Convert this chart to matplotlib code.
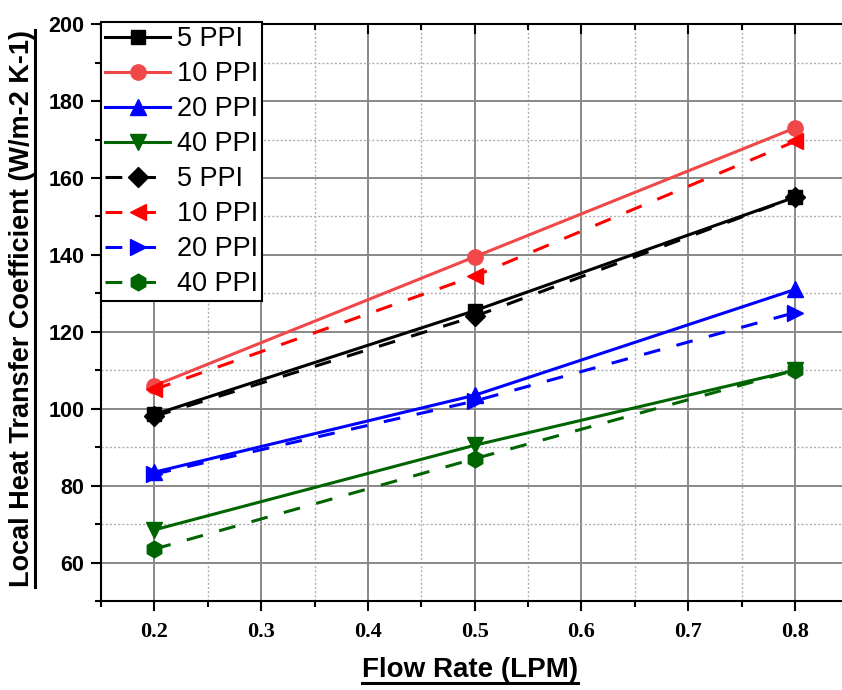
import matplotlib
matplotlib.use('Agg')
import matplotlib.pyplot as plt
from matplotlib.lines import Line2D
from matplotlib.ticker import MultipleLocator

# flow rates (LPM)
flow = [0.2, 0.5, 0.8]

# solid lines
h5_a = [98.5, 125.5, 155]
h10_a = [106, 139.5, 173]
h20_a = [83.5, 103.5, 131]
h40_a = [68.5, 90.5, 110]

# dashed lines
h5_b = [98, 124, 155]
h10_b = [105, 134.5, 169.5]
h20_b = [83, 102, 125]
h40_b = [63.5, 87, 110]

labels = ['5 PPI', '10 PPI', '20 PPI', '40 PPI']

fig = plt.figure(figsize=(8.42, 6.9), dpi=100)
ax = fig.add_axes([0.120, 0.129, 0.885, 0.836])

lw = 2.2
ms = 11
dash = (0, (5.5, 5.5))
ax.plot(flow, h5_a, color='black', marker='s', lw=lw, ms=ms - 1, label=labels[0], zorder=3)
ax.plot(flow, h10_a, color='#f04848', marker='o', lw=lw, ms=ms, label=labels[1], zorder=3)
ax.plot(flow, h20_a, color='#0000ff', marker='^', lw=lw, ms=ms, label=labels[2], zorder=3)
ax.plot(flow, h40_a, color='#006400', marker='v', lw=lw, ms=ms, label=labels[3], zorder=3)
ax.plot(flow, h5_b, color='black', marker='D', lw=lw, ms=ms - 1, ls=dash, label=labels[0], zorder=3)
ax.plot(flow, h10_b, color='#ff0000', marker='<', lw=lw, ms=ms, ls=dash, label=labels[1], zorder=3)
ax.plot(flow, h20_b, color='#0000ff', marker='>', lw=lw, ms=ms, ls=dash, label=labels[2], zorder=3)
ax.plot(flow, h40_b, color='#006400', marker='h', lw=lw, ms=ms + 1, ls=dash, label=labels[3], zorder=3)

ax.set_xlim(0.15, 0.848)
ax.set_ylim(50, 200)
ax.xaxis.set_major_locator(MultipleLocator(0.1))
ax.xaxis.set_minor_locator(MultipleLocator(0.05))
ax.yaxis.set_major_locator(MultipleLocator(20))
ax.yaxis.set_minor_locator(MultipleLocator(10))

ax.grid(which='major', color='#888888', lw=1.4, ls='-', zorder=0)
ax.grid(which='minor', color='#b0b0b0', lw=1.0, ls=(0, (1.5, 1.5)), zorder=0)
ax.set_axisbelow(True)

for s in ax.spines.values():
    s.set_linewidth(1.5)
ax.tick_params(which='both', direction='out', width=1.5, top=True, right=True)
ax.tick_params(which='major', length=7)
ax.tick_params(which='minor', length=4)
ax.xaxis.set_tick_params(which='both', labeltop=False)

ax.set_xticks([0.2, 0.3, 0.4, 0.5, 0.6, 0.7, 0.8])
ax.set_xticklabels(['0.2', '0.3', '0.4', '0.5', '0.6', '0.7', '0.8'],
                   fontfamily='Liberation Serif', fontweight='bold', fontsize=16)
ax.set_yticks(range(60, 201, 20))
ax.set_yticklabels([str(v) for v in range(60, 201, 20)],
                   fontfamily='Liberation Sans', fontweight='bold', fontsize=15.5)
ax.tick_params(axis='x', pad=8)
ax.tick_params(axis='y', pad=5)
# top ticks point inward
for t in ax.xaxis.get_major_ticks() + ax.xaxis.get_minor_ticks():
    t.tick2line.set_marker(3)

leg = ax.legend(loc='upper left', bbox_to_anchor=(0, 1.003), borderaxespad=0,
                prop={'family': 'Liberation Sans', 'size': 19.5},
                handlelength=2.4, labelspacing=0.33, handletextpad=0.25,
                fancybox=False, framealpha=1, edgecolor='black', borderpad=0.15)
leg.get_frame().set_linewidth(1.5)

xl = fig.text(0.558, 0.029, 'Flow Rate (LPM)', ha='center', va='center',
              fontfamily='Liberation Sans', fontweight='bold', fontsize=20)
yl = fig.text(0.026, 0.553, 'Local Heat Transfer Coefficient (W/m-2 K-1)', ha='center',
              va='center', rotation=90, fontfamily='Liberation Sans',
              fontweight='bold', fontsize=19.5)

# underline the axis titles
fig.canvas.draw()
r = fig.canvas.get_renderer()
inv = fig.transFigure.inverted()
bb = inv.transform_bbox(xl.get_window_extent(r))
fig.add_artist(Line2D([bb.x0, bb.x1], [bb.y0, bb.y0], color='black', lw=2.2,
                      transform=fig.transFigure))
bb = inv.transform_bbox(yl.get_window_extent(r))
fig.add_artist(Line2D([bb.x1, bb.x1], [bb.y0, bb.y1], color='black', lw=2.2,
                      transform=fig.transFigure))

fig.savefig('out.png', dpi=100)
